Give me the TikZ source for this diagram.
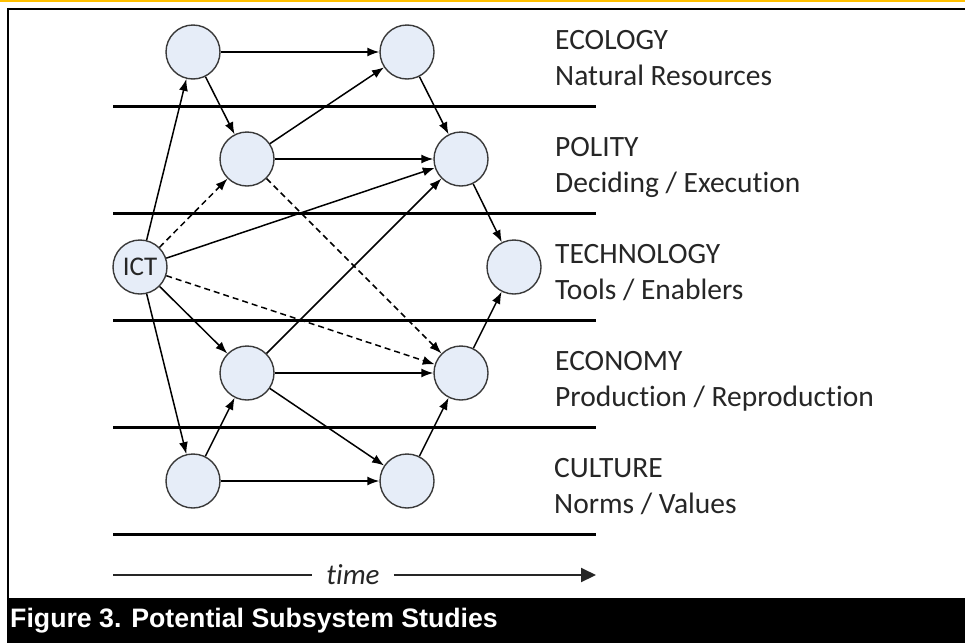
\documentclass[tikz,border=0pt]{standalone}
\usepackage{fontspec}
\setmainfont{Carlito}[Ligatures=NoCommon]
\newfontfamily\capfont{Liberation Sans}
\usetikzlibrary{arrows.meta}
\definecolor{nodefill}{HTML}{E6EDF8}
\definecolor{nodeline}{HTML}{3A3A3A}
\definecolor{gold}{HTML}{FFC000}
\definecolor{labelgray}{HTML}{262626}
\begin{document}
\begin{tikzpicture}[x=1pt,y=-1pt,
  sub/.style={circle,minimum size=54pt,inner sep=0pt,draw=nodeline,line width=1.4pt,fill=nodefill},
  link/.style={-{Latex[length=12pt,width=9pt]},line width=1.5pt,black},
  dlink/.style={link,dash pattern=on 6pt off 4pt},
  sep/.style={line width=3pt,black},
  lab/.style={anchor=base west,inner sep=0pt,text=labelgray,font=\fontsize{29.5}{34}\selectfont}]
\useasboundingbox (0,0) rectangle (965,643);
\fill[white] (0,0) rectangle (965,643);
% top gold line and frame
\fill[gold] (0,0) rectangle (965,2);
\draw[line width=2pt,black] (8,598) -- (8,8.5) -- (965,8.5);
% caption bar
\fill[black] (7,598) rectangle (965,643);
\node[anchor=west,inner sep=0pt,text=white,font=\capfont\bfseries\fontsize{26.7}{30}\selectfont] (cap) at (10,621) {Figure 3. Potential Subsystem Studies};
% separators
\foreach \yy/\nm in {106/s1,213/s2,320/s3,427/s4,534/s5}{
  \draw[sep] (113,\yy) -- (596,\yy);
}
% nodes
\node[sub] (e1) at (193,52) {};
\node[sub] (e2) at (407,52) {};
\node[sub] (p1) at (247,159) {};
\node[sub] (p2) at (461,159) {};
\node[sub,font=\fontsize{27}{30}\selectfont,text=labelgray] (ict) at (140,267) {ICT};
\node[sub] (t) at (514,267) {};
\node[sub] (c1e) at (247,373) {};
\node[sub] (c2e) at (461,373) {};
\node[sub] (k1) at (193,481) {};
\node[sub] (k2) at (407,481) {};
% connectors
\draw[link] (e1) -- (e2);
\draw[link] (e1) -- (p1);
\draw[link] (p1) -- (e2);
\draw[link] (p1) -- (p2);
\draw[dlink] (p1) -- (c2e);
\draw[link] (e2) -- (p2);
\draw[link] (ict) -- (e1);
\draw[dlink] (ict) -- (p1);
\draw[link] (ict) -- (p2);
\draw[dlink] (ict) -- (c2e);
\draw[link] (ict) -- (c1e);
\draw[link] (ict) -- (k1);
\draw[link] (p2) -- (t);
\draw[link] (c2e) -- (t);
\draw[link] (c1e) -- (p2);
\draw[link] (c1e) -- (c2e);
\draw[link] (c1e) -- (k2);
\draw[link] (k1) -- (c1e);
\draw[link] (k1) -- (k2);
\draw[link] (k2) -- (c2e);
% labels
\node[lab] (l1a) at (555,49) {ECOLOGY};
\node[lab] (l1b) at (555,85) {Natural Resources};
\node[lab] (l2a) at (555,156) {POLITY};
\node[lab] (l2b) at (555,192) {Deciding / Execution};
\node[lab] (l3a) at (555,263) {TECHNOLOGY};
\node[lab] (l3b) at (555,299) {Tools / Enablers};
\node[lab] (l4a) at (555,370) {ECONOMY};
\node[lab] (l4b) at (555,406) {Production / Reproduction};
\node[lab] (l5a) at (554,477) {CULTURE};
\node[lab] (l5b) at (554,513) {Norms / Values};
% time arrow
\coordinate (tstart) at (113,575);
\coordinate (tend) at (596,575);
\node[inner xsep=14pt,inner ysep=0pt,text=labelgray,font=\itshape\fontsize{29}{32}\selectfont] (time) at (353,575) {time};
\draw[line width=2pt,labelgray] (tstart) -- (time.west);
\draw[line width=2pt,labelgray,-{Triangle[length=15pt,width=14pt]}] (time.east) -- (tend);
\end{tikzpicture}
\end{document}
